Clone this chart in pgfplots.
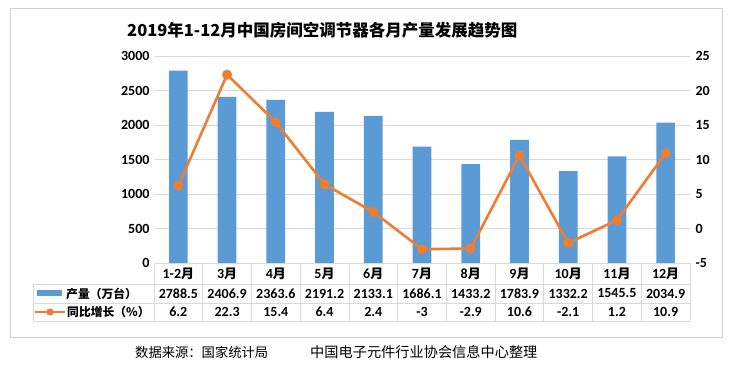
\documentclass[border=0pt]{standalone}
\usepackage{pgfplots}
\pgfplotsset{compat=1.18}
\usepackage{fontspec}
\setmainfont{Carlito}
\newfontfamily\cjk{Noto Sans CJK SC}
\definecolor{barblue}{HTML}{5B9BD5}
\definecolor{lineorange}{HTML}{ED7D31}
\definecolor{gridgray}{HTML}{D9D9D9}
\definecolor{framegray}{HTML}{D0D0D0}
\begin{document}
\begin{tikzpicture}[x=1pt,y=1pt]
\useasboundingbox (0,0) rectangle (733,367);
\fill[white] (0,0) rectangle (733,367);
\draw[framegray, line width=0.8pt] (10,30) rectangle (722,359);
% title
\node[anchor=west, inner sep=0pt] at (127,337) {\cjk\bfseries\fontsize{16.5}{18}\selectfont 2019年1-12月中国房间空调节器各月产量发展趋势图};
% bars, left axis
\begin{axis}[
  at={(154pt,104pt)}, anchor=south west,
  scale only axis, width=536pt, height=207pt,
  xmin=-0.5, xmax=10.5, ymin=0, ymax=3000,
  ytick={0,500,...,3000}, xtick=\empty,
  axis line style={draw=none},
  ymajorgrids, grid style={color=gridgray, line width=0.8pt},
  major tick length=0pt,
  /pgf/number format/assume math mode=true,
  /pgf/number format/1000 sep={},
  yticklabel style={font=\bfseries\fontsize{14}{15}\selectfont, xshift=-1pt},
  ybar, bar width=18.7pt, clip=false,
]
\addplot[fill=barblue, draw=none] coordinates {
 (0,2788.5) (1,2406.9) (2,2363.6) (3,2191.2) (4,2133.1) (5,1686.1)
 (6,1433.2) (7,1783.9) (8,1332.2) (9,1545.5) (10,2034.9)};
\end{axis}
% line, right axis
\begin{axis}[
  at={(154pt,104pt)}, anchor=south west,
  scale only axis, width=536pt, height=207pt,
  xmin=-0.5, xmax=10.5, ymin=-5, ymax=25,
  ytick={-5,0,...,25}, xtick=\empty,
  axis y line*=right, axis x line=none,
  axis line style={draw=none},
  major tick length=0pt,
  /pgf/number format/assume math mode=true,
  yticklabel style={font=\bfseries\fontsize{14}{15}\selectfont, xshift=2pt},
  clip=false,
]
\addplot[lineorange, line width=2.6pt, mark=*, mark size=3.6pt, mark options={fill=lineorange, draw=lineorange}] coordinates {
 (0,6.2) (1,22.3) (2,15.4) (3,6.4) (4,2.4) (5,-3)
 (6,-2.9) (7,10.6) (8,-2.1) (9,1.2) (10,10.9)};
\end{axis}
% data table
\draw[gridgray, line width=0.8pt] (154,104) -- (690,104);
\draw[gridgray, line width=0.8pt] (33,83) -- (690,83);
\draw[gridgray, line width=0.8pt] (33,64) -- (690,64);
\draw[gridgray, line width=0.8pt] (33,46) -- (690,46);
\draw[gridgray, line width=0.8pt] (33,83) -- (33,46);
\foreach \k in {0,...,11} {
  \draw[gridgray, line width=0.8pt] ({154+48.727*\k},104) -- ({154+48.727*\k},46);
}
\foreach \i/\m in {0/1-2,1/3,2/4,3/5,4/6,5/7,6/8,7/9,8/10,9/11,10/12} {
  \node[inner sep=0pt] at ({178.36+48.727*\i},93.5) {\bfseries\fontsize{14}{15}\selectfont \m{\cjk\bfseries\fontsize{13}{14}\selectfont 月}};
}
\foreach \i/\v in {0/2788.5,1/2406.9,2/2363.6,3/2191.2,4/2133.1,5/1686.1,6/1433.2,7/1783.9,8/1332.2,9/1545.5,10/2034.9} {
  \node[inner sep=0pt] at ({178.36+48.727*\i},73.5) {\bfseries\fontsize{14}{15}\selectfont \v};
}
\foreach \i/\v in {0/6.2,1/22.3,2/15.4,3/6.4,4/2.4,5/-3,6/-2.9,7/10.6,8/-2.1,9/1.2,10/10.9} {
  \node[inner sep=0pt] at ({178.36+48.727*\i},55) {\bfseries\fontsize{14}{15}\selectfont \v};
}
% legend keys
\fill[barblue] (37,71) rectangle (62,77);
\draw[lineorange, line width=2.6pt] (35,55) -- (65,55);
\fill[lineorange] (50,55) circle (3.6);
\node[anchor=west, inner sep=0pt] at (66,73.5) {\cjk\bfseries\fontsize{11.8}{14}\selectfont 产量（万台）};
\node[anchor=west, inner sep=0pt] at (67,55) {\cjk\bfseries\fontsize{11.8}{14}\selectfont 同比增长（\%）};
% source
\node[anchor=west, inner sep=0pt] at (135,15) {\cjk\fontsize{13.3}{16}\selectfont 数据来源：国家统计局};
\node[anchor=west, inner sep=0pt] at (310,15) {\cjk\fontsize{14.2}{17}\selectfont 中国电子元件行业协会信息中心整理};
\end{tikzpicture}
\end{document}
